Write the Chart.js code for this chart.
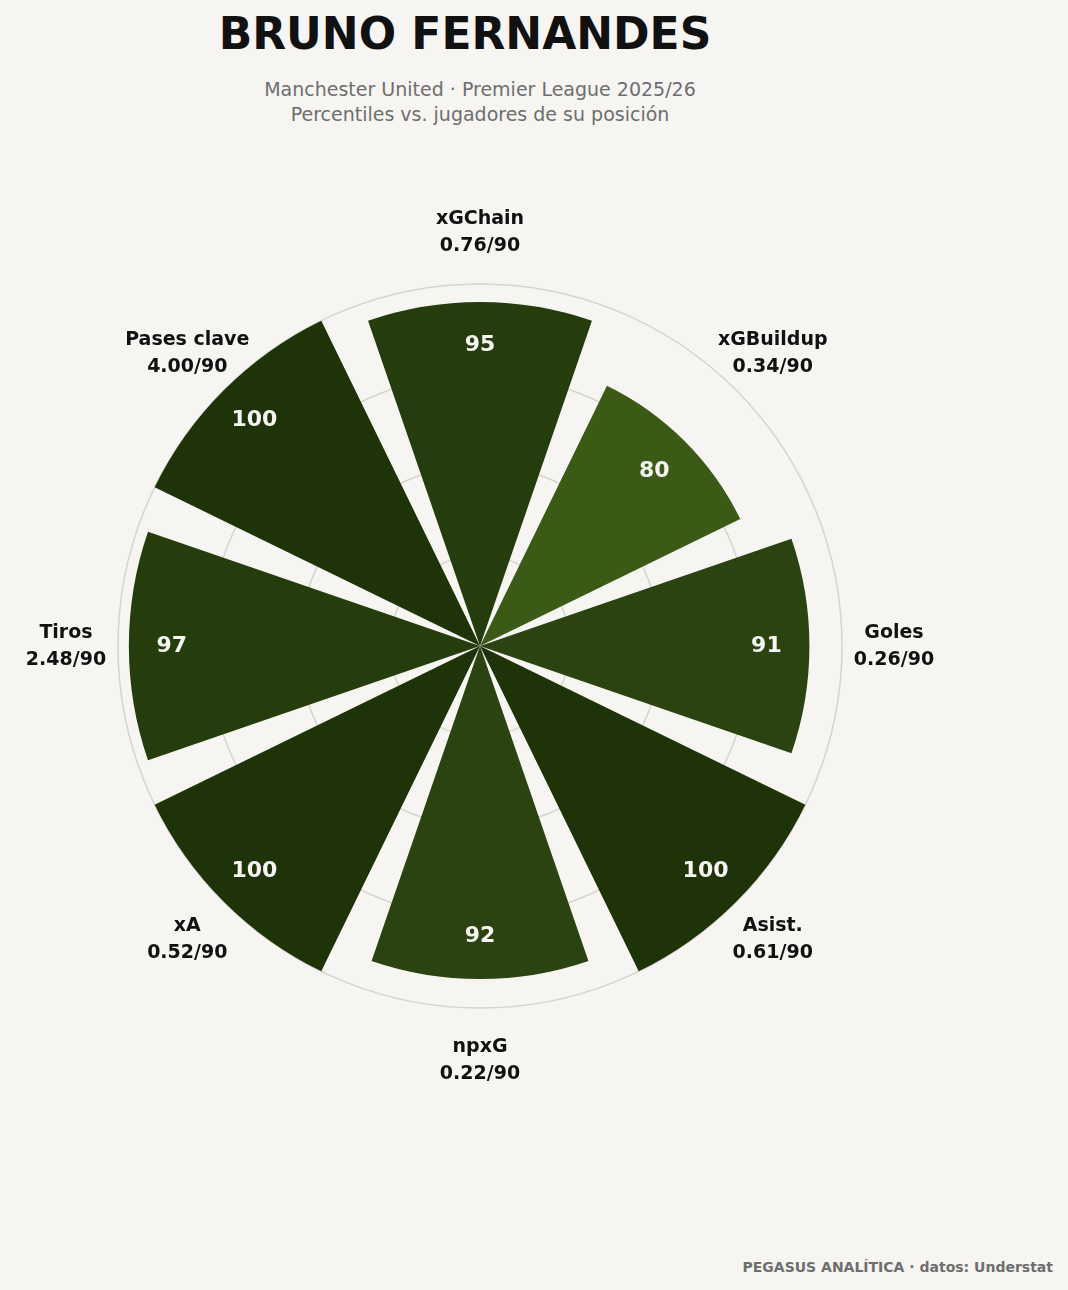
<!DOCTYPE html>
<html><head><meta charset="utf-8">
<script src="https://cdn.jsdelivr.net/npm/chart.js@4"></script>
<style>
body{margin:0;background:#f6f5f1;width:1068px;height:1290px;position:relative;overflow:hidden;font-family:"DejaVu Sans",sans-serif}
#t{position:absolute;top:8px;left:0;width:930px;text-align:center;font-weight:bold;font-size:44px;color:#111}
#s{position:absolute;top:77px;left:0;width:960px;text-align:center;font-size:19px;color:#6e6e6e;line-height:25px}
#f{position:absolute;right:15px;top:1259px;font-size:14px;font-weight:bold;color:#6e6e6e}
#c{position:absolute;left:0;top:0}
</style></head><body>
<div id="t">BRUNO FERNANDES</div>
<div id="s">Manchester United · Premier League 2025/26<br>Percentiles vs. jugadores de su posición</div>
<div id="f">PEGASUS ANALÍTICA · datos: Understat</div>
<div id="c" style="width:960px;height:1292px"><canvas id="cv"></canvas></div>
<script>
const metrics=["xGChain","xGBuildup","Goles","Asist.","npxG","xA","Tiros","Pases clave"];
const perVal=["0.76/90","0.34/90","0.26/90","0.61/90","0.22/90","0.52/90","2.48/90","4.00/90"];
const percentiles=[95,80,91,100,92,100,97,100];
const colors=["#253d0c","#3b5a16","#2b4310","#1f3309","#2b4310","#1f3309","#253d0c","#1f3309"];
const SLICE=38, GAP=7;
const data=[],bg=[],labels=[],angles=[];
percentiles.forEach((v,i)=>{data.push(v);bg.push(colors[i]);labels.push(metrics[i]);angles.push(SLICE);
 data.push(0);bg.push('rgba(0,0,0,0)');labels.push('');angles.push(GAP);});
const txt={id:'txt',afterDatasetsDraw(ch){
 const c=ch.ctx,r=ch.scales.r,cx=r.xCenter,cy=r.yCenter;
 c.save();c.textAlign='center';c.textBaseline='middle';
 percentiles.forEach((v,i)=>{
  const a=(-90+45*i)*Math.PI/180;
  const rv=r.getDistanceFromCenterForValue(v)-43;
  c.fillStyle='#f6f5f1';c.font='bold 22px "DejaVu Sans"';
  c.fillText(String(v),cx+rv*Math.cos(a),cy+rv*Math.sin(a));
  const rl=414,x=cx+rl*Math.cos(a),y=cy+rl*Math.sin(a);
  c.fillStyle='#111';c.font='bold 19px "DejaVu Sans"';
  c.fillText(metrics[i],x,y-13);c.fillText(perVal[i],x,y+14);
 });
 c.restore();}};
new Chart(document.getElementById('cv'),{type:'polarArea',
 data:{labels,datasets:[{data,backgroundColor:bg,borderWidth:0,angle:ctx=>angles[ctx.dataIndex]}]},
 options:{responsive:true,maintainAspectRatio:false,animation:false,
  layout:{padding:{left:118,right:118,top:0,bottom:0}},
  plugins:{legend:{display:false},tooltip:{enabled:false}},
  scales:{r:{min:0,max:100,startAngle:-19,ticks:{display:false,stepSize:25},
   grid:{color:'#d6d4cf',lineWidth:1.5},angleLines:{display:false},pointLabels:{display:false}}}},
 plugins:[txt]});
</script></body></html>
